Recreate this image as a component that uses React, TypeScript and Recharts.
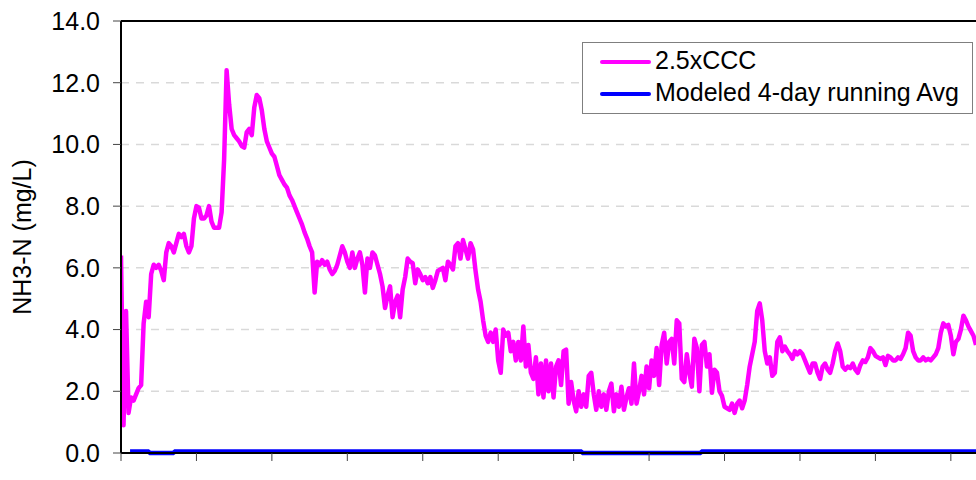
import { LineChart, Line, XAxis, YAxis, CartesianGrid, ReferenceLine, Legend } from 'recharts';

// daily values of 2.5 x CCC (mg/L), day 0 .. 340
const cccValues = [
  6.4, 0.9, 4.6, 1.3, 1.8, 1.7, 1.9, 2.1, 2.2, 4.2,
  4.9, 4.4, 5.8, 6.1, 6.0, 6.1, 5.9, 5.6, 6.5, 6.8,
  6.7, 6.5, 6.8, 7.1, 7.0, 7.1, 6.7, 6.5, 6.7, 7.6,
  8.0, 7.95, 7.6, 7.6, 7.7, 8.0, 7.5, 7.3, 7.3, 7.3,
  7.8, 9.5, 12.4, 11.3, 10.5, 10.3, 10.2, 10.1, 9.95, 9.9,
  10.4, 10.5, 10.3, 11.2, 11.6, 11.5, 11.1, 10.5, 10.1, 9.9,
  9.7, 9.6, 9.3, 9.0, 8.85, 8.7, 8.6, 8.35, 8.2, 8.0,
  7.8, 7.6, 7.4, 7.15, 6.95, 6.7, 6.5, 5.2, 6.2, 6.1,
  6.25, 6.1, 6.2, 5.95, 5.8, 5.9, 6.1, 6.4, 6.7, 6.5,
  6.2, 6.0, 6.5, 6.0, 6.3, 6.5, 6.1, 5.2, 6.3, 6.0,
  6.5, 6.4, 6.1, 5.8, 5.4, 4.7, 5.1, 5.4, 4.4, 4.9,
  5.1, 4.4, 5.3, 5.7, 6.3, 6.2, 6.15, 5.5, 5.95, 5.8,
  5.6, 5.7, 5.5, 5.7, 5.35, 5.6, 5.9, 5.95, 6.0, 5.6,
  6.2, 6.1, 5.95, 6.7, 6.8, 6.3, 6.9, 6.6, 6.3, 6.8,
  6.6, 5.9, 5.3, 4.9, 4.3, 3.8, 3.6, 3.9, 3.6, 4.0,
  3.0, 2.6, 4.0, 3.8, 3.9, 3.3, 3.6, 3.0, 3.6, 3.0,
  4.1, 2.8, 3.5, 2.6, 2.4, 3.1, 1.9, 2.9, 1.8, 3.0,
  2.0, 2.9, 1.8, 2.8, 3.0, 2.2, 3.3, 3.35, 1.6, 2.3,
  1.7, 1.35, 2.0, 1.5, 1.9, 1.5, 2.5, 2.6, 1.9, 1.4,
  2.0, 1.5, 1.9, 1.4, 2.0, 2.25, 1.35, 1.9, 1.5, 2.15,
  1.4, 1.8, 2.1, 1.6, 2.9, 1.6, 2.0, 2.5, 1.9, 2.8,
  2.1, 3.0, 2.5, 3.4, 2.2, 3.5, 3.9, 2.9, 3.6, 3.7,
  2.9, 4.3, 4.2, 2.4, 2.3, 3.2, 2.6, 2.15, 3.7, 3.4,
  2.0, 3.5, 3.6, 2.8, 3.2, 1.95, 2.7, 2.6, 2.0, 1.85,
  1.5, 1.45, 1.4, 1.6, 1.3, 1.6, 1.7, 1.45, 1.7, 2.2,
  2.8, 3.2, 3.6, 4.6, 4.85, 4.3, 3.3, 2.9, 3.1, 2.5,
  2.6, 3.6, 3.75, 3.3, 3.45, 3.3, 3.2, 3.05, 3.3, 3.2,
  3.3, 3.2, 3.0, 2.8, 2.6, 2.9, 2.9, 2.6, 2.4, 2.8,
  2.9, 2.7, 2.6, 2.9, 3.3, 3.55, 3.3, 2.8, 2.7, 2.8,
  2.75, 2.9, 2.7, 2.6, 2.85, 3.0, 2.95, 3.1, 3.4, 3.3,
  3.15, 3.1, 3.05, 3.1, 2.85, 3.15, 3.1, 3.0, 3.0, 3.1,
  3.05, 3.2, 3.4, 3.9, 3.8, 3.3, 3.1, 3.0, 3.0, 3.1,
  3.0, 3.05, 3.0, 3.1, 3.2, 3.4, 3.9, 4.2, 4.1, 4.15,
  3.8, 3.2, 3.6, 3.7, 4.0, 4.45, 4.3, 4.1, 3.95, 3.8,
  3.5,
];

// modeled 4-day running average, step changes
const avgDays = [3.6, 10.8, 11.6, 20.7, 21.5, 182.9, 183.7, 230.3, 231.1, 340];
const avgValues = [0.05, 0.05, 0, 0, 0.05, 0.05, 0, 0, 0.05, 0.05];

const yTicks = [0, 2, 4, 6, 8, 10, 12, 14];
const xTicks = [0, 30, 60, 90, 120, 150, 180, 210, 240, 270, 300, 330];
const seriesNames = ['2.5xCCC', 'Modeled 4-day running Avg'];
const seriesColors = ['#ff00ff', '#0000ff'];

const FONT = '"Liberation Sans", Arial, sans-serif';

const cccData = cccValues.map((v, i) => ({ day: i, ccc: v }));
const avgData = avgDays.map((d, i) => ({ day: d, avg: avgValues[i] }));

function LegendBox() {
  return (
    <div
      style={{
        position: 'relative',
        width: 391,
        height: 72,
        boxSizing: 'border-box',
        border: '1.5px solid #7f7f7f',
        background: '#fff',
        fontFamily: FONT,
        fontSize: 25,
        color: '#000',
      }}
    >
      {seriesNames.map((name, i) => (
        <div key={name}>
          <div
            style={{
              position: 'absolute',
              left: 17,
              top: (i === 0 ? 19 : 51) - 2,
              width: 51,
              height: 4,
              borderRadius: 2,
              background: seriesColors[i],
            }}
          />
          <div
            style={{
              position: 'absolute',
              left: 72,
              top: (i === 0 ? 17 : 49) - 15,
              lineHeight: '30px',
              whiteSpace: 'nowrap',
            }}
          >
            {name}
          </div>
        </div>
      ))}
    </div>
  );
}

// eslint-disable-next-line @typescript-eslint/no-explicit-any
function YLabel({ viewBox }: any) {
  const cy = viewBox ? viewBox.y + viewBox.height / 2 : 237;
  return (
    <text
      x={22}
      y={cy}
      transform={`rotate(-90, 22, ${cy})`}
      textAnchor="middle"
      dominantBaseline="central"
      fontFamily={FONT}
      fontSize={25}
      fill="#000"
    >
      NH3-N (mg/L)
    </text>
  );
}

export default function App() {
  return (
    <div style={{ position: 'absolute', left: 0, top: 0, width: 976, height: 480, overflow: 'hidden', background: '#fff' }}>
      <LineChart width={976} height={480} margin={{ top: 21, right: 0, bottom: 0, left: 0 }}>
        <CartesianGrid
          horizontal
          vertical={false}
          stroke="#d9d9d9"
          strokeWidth={1.5}
          strokeDasharray="8 7"
        />
        <XAxis
          type="number"
          dataKey="day"
          domain={[0, 340]}
          ticks={xTicks}
          height={27}
          axisLine={{ stroke: '#000', strokeWidth: 2 }}
          tickLine={{ stroke: '#444', strokeWidth: 1 }}
          tickSize={8}
          tick={() => <g />}
          allowDataOverflow
        />
        <YAxis
          type="number"
          domain={[0, 14]}
          ticks={yTicks}
          width={121}
          interval={0}
          axisLine={{ stroke: '#000', strokeWidth: 2 }}
          tickLine={{ stroke: '#444', strokeWidth: 1 }}
          tickSize={8}
          tickMargin={13}
          tickFormatter={(v: number) => v.toFixed(1)}
          tick={{ fill: '#000', fontSize: 25, fontFamily: FONT }}
          label={<YLabel />}
        />
        <ReferenceLine y={14} stroke="#000" strokeWidth={2} />
        <Legend
          layout="horizontal"
          verticalAlign="middle"
          align="center"
          content={() => <LegendBox />}
          wrapperStyle={{ position: 'absolute', left: 582, top: 42, width: 391, height: 72 }}
        />
        <Line
          data={cccData}
          dataKey="ccc"
          name={seriesNames[0]}
          type="linear"
          stroke={seriesColors[0]}
          strokeWidth={4.5}
          strokeLinejoin="round"
          dot={false}
          isAnimationActive={false}
        />
        <Line
          data={avgData}
          dataKey="avg"
          name={seriesNames[1]}
          type="linear"
          stroke={seriesColors[1]}
          strokeWidth={4.5}
          dot={false}
          isAnimationActive={false}
        />
      </LineChart>
    </div>
  );
}
